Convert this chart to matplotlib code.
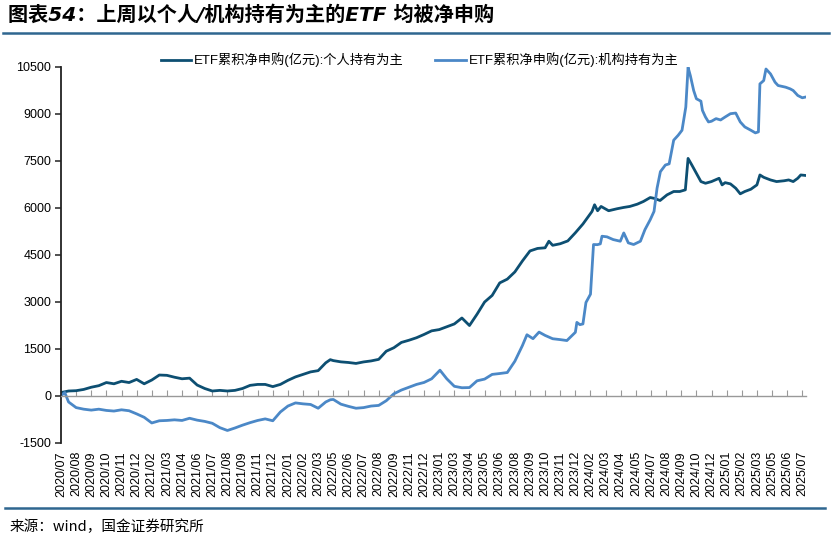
import matplotlib
matplotlib.use('Agg')
import matplotlib.pyplot as plt
from matplotlib.lines import Line2D
import numpy as np

plt.rcParams['font.family'] = ['Liberation Sans', 'Noto Sans CJK SC']
plt.rcParams['axes.unicode_minus'] = False

# x axis category labels (one per tick)
labels = ['2020/07', '2020/08', '2020/09', '2020/10', '2020/11', '2020/12',
          '2021/02', '2021/03', '2021/04', '2021/06', '2021/07', '2021/08', '2021/09',
          '2021/11', '2021/12', '2022/01', '2022/02', '2022/03', '2022/05', '2022/06',
          '2022/07', '2022/08', '2022/09', '2022/11', '2022/12', '2023/01', '2023/03',
          '2023/04', '2023/05', '2023/06', '2023/08', '2023/09', '2023/10', '2023/11',
          '2023/12', '2024/02', '2024/03', '2024/04', '2024/05', '2024/07', '2024/08',
          '2024/09', '2024/10', '2024/12', '2025/01', '2025/02', '2025/03', '2025/05',
          '2025/06', '2025/07']

# position along the label axis (in label steps) and cumulative net subscription (亿元)
t_ind = [0, 0.5, 1, 1.5, 2, 2.5, 3, 3.5, 4, 4.5, 5, 5.5, 6, 6.5, 7, 7.5, 8, 8.5, 9, 9.5,
         10, 10.5, 11, 11.5, 12, 12.5, 13, 13.5, 14, 14.5, 15, 15.5, 16, 16.5, 17, 17.5, 17.8,
         18, 18.5, 19, 19.5, 20, 20.5, 21, 21.5, 22, 22.5, 23, 23.5, 24, 24.5, 25, 25.5, 26,
         26.5, 27, 27.5, 28, 28.5, 29, 29.5, 30, 30.5, 31, 31.5, 32, 32.25, 32.5, 33, 33.5,
         34, 34.5, 35.1, 35.27, 35.47, 35.7, 36.2, 36.75, 37.2, 37.6, 38.1, 38.5, 38.95,
         39.2, 39.6, 40.06, 40.5, 40.9, 41.27, 41.45, 41.7, 42.0, 42.3, 42.6, 43.0, 43.5,
         43.7, 43.9, 44.25, 44.6, 44.9, 45.2, 45.6, 46.0, 46.2, 46.45, 46.9, 47.3, 47.8,
         48.1, 48.4, 48.7, 48.9, 49.2]
v_ind = [100, 150, 160, 200, 270, 320, 420, 380, 460, 420, 520, 380, 500, 660, 650, 590,
         540, 560, 340, 230, 150, 170, 150, 170, 230, 330, 360, 360, 290, 360, 490, 600,
         680, 760, 800, 1050, 1150, 1120, 1080, 1060, 1030, 1078, 1110, 1160, 1420, 1530,
         1700, 1770, 1850, 1955, 2070, 2110, 2200, 2290, 2480, 2240, 2600, 2990, 3200,
         3600, 3720, 3950, 4300, 4620, 4700, 4720, 4930, 4800, 4850, 4940, 5200, 5480,
         5880, 6094, 5903, 6040, 5903, 5966, 6009, 6040, 6114, 6199, 6325, 6300, 6230,
         6410, 6517, 6517, 6570, 7573, 7362, 7098, 6834, 6780, 6834, 6939, 6728, 6800,
         6760, 6622, 6443, 6517, 6590, 6728, 7045, 6970, 6886, 6834, 6860, 6886, 6834,
         6939, 7045, 7030]

t_ins = [0, 0.25, 0.5, 1, 1.5, 2, 2.5, 3, 3.5, 4, 4.5, 5, 5.5, 6, 6.5, 7, 7.5, 8, 8.5, 9,
         9.5, 10, 10.5, 11, 11.5, 12, 12.5, 13, 13.5, 14, 14.5, 15, 15.5, 16, 16.5, 17, 17.5,
         17.8, 18, 18.5, 19, 19.5, 20, 20.5, 21, 21.5, 22, 22.5, 23, 23.5, 24, 24.5, 25.05,
         25.5, 26, 26.5, 27, 27.5, 28, 28.5, 29, 29.5, 30, 30.5, 30.8, 31.2, 31.6, 32.0,
         32.5, 33.0, 33.44, 33.77, 34.0, 34.1, 34.3, 34.5, 34.7, 35.0, 35.2, 35.45, 35.65,
         35.76, 36.09, 36.5, 36.97, 37.2, 37.5, 37.85, 38.3, 38.6, 38.95, 39.2, 39.4, 39.62,
         39.95, 40.2, 40.5, 40.8, 41.05, 41.3, 41.45, 41.6, 41.82, 42.0, 42.3, 42.4, 42.6,
         42.8, 43.0, 43.3, 43.6, 43.9, 44.25, 44.6, 44.9, 45.2, 45.6, 45.9, 46.1, 46.2,
         46.45, 46.6, 46.9, 47.2, 47.4, 47.9, 48.2, 48.4, 48.7, 49.0, 49.2]
v_ins = [0, 100, -200, -380, -430, -460, -430, -470, -490, -450, -480, -580, -690, -870,
         -800, -790, -770, -790, -720, -780, -820, -880, -1020, -1110, -1030, -940, -860,
         -790, -740, -800, -520, -330, -230, -260, -280, -400, -200, -130, -120, -270, -340,
         -400, -380, -330, -310, -160, 60, 180, 270, 360, 423, 540, 814, 540, 300, 254, 260,
         475, 530, 680, 708, 740, 1100, 1600, 1945, 1820, 2030, 1924, 1818, 1790, 1760,
         1918, 2024, 2340, 2267, 2290, 2975, 3240, 4825, 4820, 4846, 5090, 5070, 4983,
         4930, 5195, 4878, 4825, 4930, 5300, 5618, 5882, 6622, 7150, 7362, 7400, 8155,
         8314, 8472, 9212, 10480, 10216, 9740, 9477, 9400, 9106, 8895, 8737, 8760, 8843,
         8800, 8895, 9000, 9021, 8737, 8578, 8472, 8388, 8420, 9952, 10058, 10427, 10270,
         10005, 9900, 9846, 9793, 9740, 9582, 9508, 9530]

yticks = np.arange(-1500, 10501, 1500)

dark = '#0D4F72'
light = '#4B88C7'
rule = '#2F6690'

fig = plt.figure(figsize=(8.31, 5.41), dpi=100)
ax = fig.add_axes([0.0734, 0.1817, 0.8966, 0.695])

ax.plot(t_ind, v_ind, color=dark, lw=2.0, label='ETF累积净申购(亿元):个人持有为主')
ax.plot(t_ins, v_ins, color=light, lw=2.0, label='ETF累积净申购(亿元):机构持有为主')

ax.set_xlim(0, 49.25)
ax.set_ylim(-1500, 10500)
ax.set_yticks(yticks)
ax.set_yticklabels([str(v) for v in yticks], fontsize=9)

for s in ['top', 'right']:
    ax.spines[s].set_visible(False)
ax.spines['left'].set_linewidth(1.3)
ax.spines['left'].set_color('#222222')
ax.spines['bottom'].set_position(('data', 0))
ax.spines['bottom'].set_color('#999999')
ax.spines['bottom'].set_linewidth(1.0)
ax.tick_params(axis='y', direction='out', length=4, width=1.1, color='#222222', pad=3)

pos = np.arange(len(labels))
ax.set_xticks(pos)
ax.tick_params(axis='x', direction='in', length=4, color='#999999', labelbottom=False)

sec = ax.secondary_xaxis('bottom')
sec.set_xticks(pos)
sec.set_xticklabels(labels, rotation=90, fontsize=9)
sec.tick_params(axis='x', length=0, pad=6)
sec.spines['bottom'].set_visible(False)

fig.legend(loc='center', bbox_to_anchor=(0.505, 0.889), ncol=2, frameon=False,
           fontsize=9.5, handlelength=2.3, handletextpad=0.2, columnspacing=2.4)

fig.text(0.01, 0.972, '图表54：上周以个人/机构持有为主的ETF 均被净申购', fontsize=14.5,
         fontweight='bold', style='italic', family=['DejaVu Sans', 'Noto Sans CJK SC'],
         va='center', ha='left')
fig.add_artist(Line2D([0.004, 0.997], [0.939, 0.939], transform=fig.transFigure,
                      color=rule, lw=1.8))
fig.add_artist(Line2D([0.006, 0.993], [0.061, 0.061], transform=fig.transFigure,
                      color=rule, lw=1.8))
fig.text(0.012, 0.026, '来源：wind，国金证券研究所', fontsize=10.5,
         family=['Noto Sans CJK SC', 'DejaVu Sans'], va='center', ha='left')

fig.savefig('out.png', dpi=100)
